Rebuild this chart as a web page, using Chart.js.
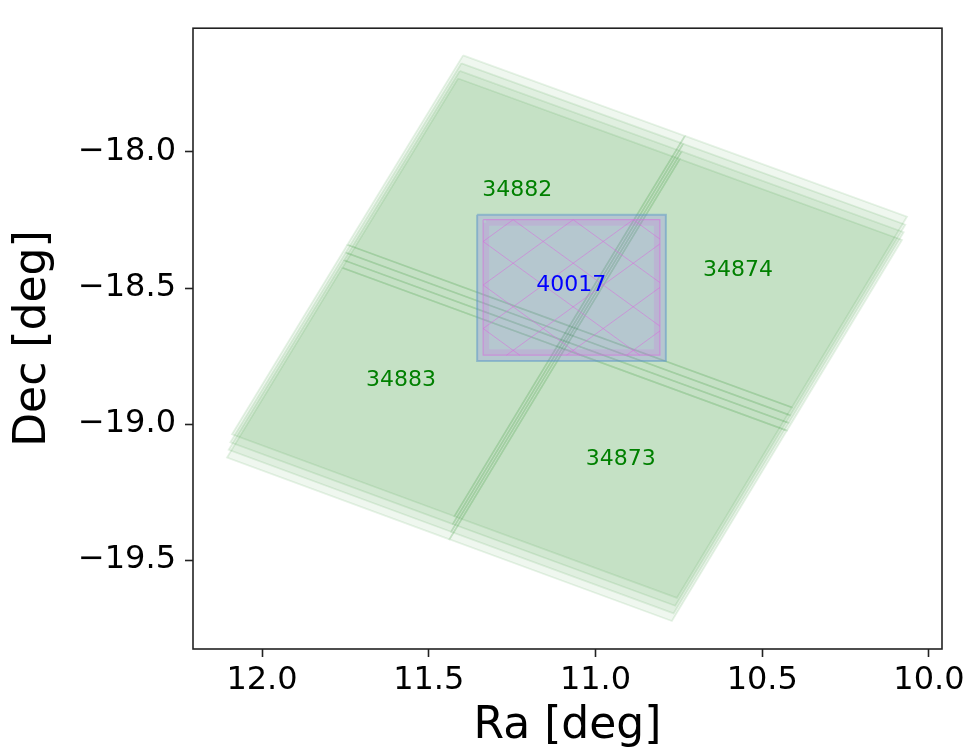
<!DOCTYPE html>
<html>
<head>
<meta charset="utf-8">
<script src="https://cdn.jsdelivr.net/npm/chart.js@4.4.0/dist/chart.umd.min.js"></script>
<style>
  html, body { margin: 0; padding: 0; background: #fff; }
  canvas { display: block; }
</style>
</head>
<body>
<canvas id="footprints" width="971" height="755"></canvas>
<script>
// axis ticks
const raTicks = [12.0, 11.5, 11.0, 10.5, 10.0];
const decTicks = [-18.0, -18.5, -19.0, -19.5];

// tiles: corners (Ra, Dec) of the first visit
const tileIds = ['34882', '34874', '34873', '34883'];
const tileRa = [
  [11.397, 10.732, 11.078, 11.744],
  [10.732, 10.066, 10.411, 11.078],
  [11.078, 10.411, 10.756, 11.423],
  [11.744, 11.078, 11.423, 12.090]
];
const tileDec = [
  [-17.645, -17.941, -18.640, -18.341],
  [-17.941, -18.238, -18.939, -18.640],
  [-18.640, -18.939, -19.639, -19.339],
  [-18.341, -18.640, -19.339, -19.038]
];
// pointing shift of each visit
const visitRaShift = [0, 0.005, 0.010, 0.015];
const visitDecShift = [0, -0.029, -0.057, -0.085];
const tileLabelRa = [11.235, 10.573, 10.924, 11.583];
const tileLabelDec = [-18.142, -18.434, -19.130, -18.839];

// field 40017 and its scan pattern
const fieldId = '40017';
const fieldRa = [11.355, 10.789];
const fieldDec = [-18.231, -18.768];
const fieldLabelRa = 11.073;
const fieldLabelDec = -18.491;
const scanRa = [11.337, 10.807];
const scanDec = [-18.249, -18.747];
const scanEdgeRa = [11.328, 10.816];
const scanEdgeDec = [-18.260, -18.736];
const scanSegRa = [
  [10.887, 10.807], [11.067, 10.807], [11.247, 10.807],
  [11.337, 10.867], [11.337, 11.047], [11.337, 11.227],
  [11.337, 11.247], [11.337, 11.067], [11.337, 10.887],
  [11.267, 10.807], [11.087, 10.807], [10.907, 10.807]
];
const scanSegDec = [
  [-18.249, -18.320], [-18.249, -18.480], [-18.249, -18.640],
  [-18.329, -18.747], [-18.489, -18.747], [-18.649, -18.747],
  [-18.329, -18.249], [-18.489, -18.249], [-18.649, -18.249],
  [-18.747, -18.338], [-18.747, -18.498], [-18.747, -18.658]
];

function rectPoints(ra, dec) {
  return [
    {x: ra[0], y: dec[0]}, {x: ra[1], y: dec[0]},
    {x: ra[1], y: dec[1]}, {x: ra[0], y: dec[1]},
    {x: ra[0], y: dec[0]}
  ];
}

function fmt(v) {
  return v.toFixed(1).replace('-', '\u2212');
}

const datasets = [];

// green tiles, one polygon per tile per visit
visitRaShift.forEach((dRa, v) => {
  tileRa.forEach((ras, t) => {
    const pts = ras.map((ra, i) => ({x: ra + dRa, y: tileDec[t][i] + visitDecShift[v]}));
    pts.push(pts[0]);
    datasets.push({
      data: pts,
      fill: 'shape',
      backgroundColor: 'rgba(0,128,0,0.062)',
      borderColor: 'rgba(0,128,0,0.1)',
      borderWidth: 1.8,
      pointRadius: 0,
      order: 3
    });
  });
});

// field box
datasets.push({
  data: rectPoints(fieldRa, fieldDec),
  fill: 'shape',
  backgroundColor: 'rgba(100,70,255,0.17)',
  borderColor: 'rgba(90,150,200,0.5)',
  borderWidth: 2,
  pointRadius: 0,
  order: 2
});

// scan pattern
datasets.push({
  data: rectPoints(scanEdgeRa, scanEdgeDec),
  fill: false,
  borderColor: 'rgba(210,100,220,0.18)',
  borderWidth: 6,
  pointRadius: 0,
  order: 1
});
datasets.push({
  data: rectPoints(scanRa, scanDec),
  fill: false,
  borderColor: 'rgba(215,110,220,0.55)',
  borderWidth: 1.2,
  pointRadius: 0,
  order: 1
});
scanSegRa.forEach((ras, i) => {
  datasets.push({
    data: ras.map((ra, j) => ({x: ra, y: scanSegDec[i][j]})),
    fill: false,
    borderColor: 'rgba(215,110,220,0.55)',
    borderWidth: 1,
    pointRadius: 0,
    order: 1
  });
});

// labels and axes frame
const footprintLabels = {
  id: 'footprintLabels',
  afterDatasetsDraw(chart) {
    const {ctx, scales: {x, y}} = chart;
    ctx.save();
    ctx.font = "22px 'DejaVu Sans'";
    ctx.textAlign = 'center';
    ctx.textBaseline = 'middle';
    ctx.fillStyle = '#008000';
    tileIds.forEach((id, i) => {
      ctx.fillText(id, x.getPixelForValue(tileLabelRa[i]), y.getPixelForValue(tileLabelDec[i]));
    });
    ctx.fillStyle = '#0000ff';
    ctx.fillText(fieldId, x.getPixelForValue(fieldLabelRa), y.getPixelForValue(fieldLabelDec));
    ctx.restore();
  },
  afterDraw(chart) {
    const {ctx, chartArea: a} = chart;
    ctx.save();
    ctx.strokeStyle = '#222';
    ctx.lineWidth = 1.6;
    ctx.strokeRect(a.left, a.top, a.right - a.left, a.bottom - a.top);
    ctx.restore();
  }
};

const tickFont = {family: "'DejaVu Sans'", size: 32};
const titleFont = {family: "'DejaVu Sans'", size: 44, lineHeight: 1};
const tickGrid = {drawOnChartArea: false, drawTicks: true, tickLength: 8, tickWidth: 1.6, tickColor: '#222'};

new Chart(document.getElementById('footprints'), {
  type: 'line',
  data: {datasets: datasets},
  plugins: [footprintLabels],
  options: {
    responsive: false,
    animation: false,
    events: [],
    layout: {padding: {top: 7, right: 29, left: 0, bottom: 0}},
    plugins: {legend: {display: false}, tooltip: {enabled: false}},
    elements: {line: {tension: 0}},
    scales: {
      x: {
        type: 'linear',
        reverse: true,
        min: 9.961,
        max: 12.207,
        afterBuildTicks: s => { s.ticks = raTicks.map(v => ({value: v})); },
        afterFit: s => { s.height = 106; },
        border: {display: false},
        grid: tickGrid,
        ticks: {padding: 4, color: '#000', font: tickFont, maxRotation: 0, callback: v => fmt(v)},
        title: {display: true, text: 'Ra [deg]', color: '#000', font: titleFont, padding: {top: 0, bottom: 6}}
      },
      y: {
        type: 'linear',
        min: -19.827,
        max: -17.545,
        afterBuildTicks: s => { s.ticks = decTicks.map(v => ({value: v})); },
        afterFit: s => { s.width = 193; },
        border: {display: false},
        grid: tickGrid,
        ticks: {padding: 9, color: '#000', font: tickFont, callback: v => fmt(v)},
        title: {display: true, text: 'Dec [deg]', color: '#000', font: titleFont, padding: {top: 12, bottom: 0}}
      }
    }
  }
});
</script>
</body>
</html>
